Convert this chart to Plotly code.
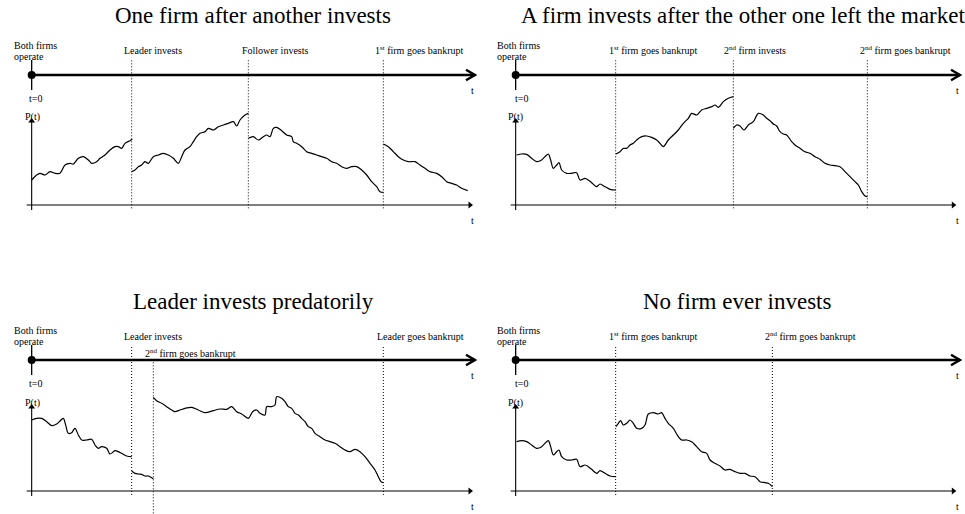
import plotly.graph_objects as go

# ---------------- data (units: t along time axis, P along price axis; origin at axes crossing) -------------
titles = ["One firm after another invests",
          "A firm invests after the other one left the market",
          "Leader invests predatorily",
          "No firm ever invests"]
title_t = [665, 683, 665, 663]
title_p = [570, 570, 568, 568]

# event times and labels per panel
p1_event_t = [300, 650, 1055]
p1_event_lbl = ["Leader invests", "Follower invests", "1<sup>st</sup> firm goes bankrupt"]
p1_lbl_t = [365, 729, 1161]
p1_lbl_p = [465, 465, 465]

p2_event_t = [300, 653, 1055]
p2_event_lbl = ["1<sup>st</sup> firm goes bankrupt", "2<sup>nd</sup> firm invests", "2<sup>nd</sup> firm goes bankrupt"]
p2_lbl_t = [411, 718, 1170]
p2_lbl_p = [465, 465, 465]

p3_event_t = [300, 365, 1055]
p3_event_top = [435, 388, 435]
p3_event_bot = [-12, -67, -12]
p3_event_lbl = ["Leader invests", "2<sup>nd</sup> firm goes bankrupt", "Leader goes bankrupt"]
p3_lbl_t = [365, 477, 1165]
p3_lbl_p = [465, 415, 465]

p4_event_t = [300, 770]
p4_event_lbl = ["1<sup>st</sup> firm goes bankrupt", "2<sup>nd</sup> firm goes bankrupt"]
p4_lbl_t = [411, 883]
p4_lbl_p = [465, 465]

# price paths (segments)
p1_s1_t = [0, 15, 25, 40, 55, 70, 85, 100, 115, 125, 140, 155, 170, 180, 195, 205, 220, 235, 250, 260, 270, 280, 295, 302]
p1_s1_p = [75, 90, 95, 90, 100, 95, 95, 120, 125, 123, 140, 145, 135, 125, 130, 140, 150, 165, 175, 175, 170, 185, 193, 197]
p1_s2_t = [300, 310, 320, 330, 340, 350, 365, 380, 395, 410, 425, 440, 450, 460, 475, 485, 495, 505, 520, 530, 545, 560, 575, 590, 605, 615, 625, 640, 650]
p1_s2_p = [100, 105, 115, 120, 130, 125, 145, 150, 155, 150, 140, 125, 145, 165, 175, 190, 205, 215, 220, 230, 225, 235, 240, 245, 250, 237, 255, 270, 275]
p1_s3_t = [650, 665, 680, 695, 705, 715, 725, 735, 750, 765, 780, 785, 795, 810, 825, 840, 855, 870, 885, 900, 915, 930, 945, 960, 975, 990, 1005, 1020, 1035, 1045, 1055]
p1_s3_p = [200, 205, 195, 205, 210, 205, 230, 233, 223, 210, 205, 190, 185, 175, 160, 155, 150, 145, 140, 130, 125, 115, 110, 115, 115, 105, 90, 70, 55, 40, 38]
p1_s4_t = [1055, 1070, 1085, 1100, 1115, 1130, 1150, 1165, 1180, 1195, 1215, 1230, 1245, 1260, 1275, 1290, 1308]
p1_s4_p = [183, 175, 160, 145, 135, 130, 130, 120, 110, 100, 95, 85, 70, 65, 60, 50, 43]

p2_s1_t = [3, 18, 33, 48, 63, 78, 88, 98, 105, 113, 123, 130, 138, 153, 168, 183, 193, 208, 218, 228, 243, 253, 268, 283, 301]
p2_s1_p = [150, 153, 152, 140, 130, 135, 145, 153, 135, 110, 120, 127, 105, 95, 95, 97, 75, 80, 75, 67, 55, 63, 55, 47, 45]
p2_s2_t = [301, 313, 323, 333, 343, 353, 363, 378, 393, 408, 423, 433, 443, 458, 473, 488, 503, 518, 528, 543, 558, 573, 588, 598, 608, 623, 638, 653]
p2_s2_p = [153, 160, 170, 170, 180, 185, 195, 205, 207, 203, 195, 185, 175, 195, 210, 225, 245, 260, 275, 270, 285, 290, 295, 300, 293, 310, 320, 325]
p2_s3_t = [653, 663, 673, 685, 698, 713, 728, 743, 753, 763, 773, 783, 793, 803, 813, 828, 838, 853, 868, 883, 898, 913, 928, 943, 958, 973, 988, 1003, 1018, 1028, 1038, 1048, 1055]
p2_s3_p = [230, 240, 237, 225, 240, 250, 275, 270, 260, 253, 243, 237, 220, 213, 210, 190, 180, 170, 160, 155, 145, 137, 125, 120, 118, 115, 100, 85, 70, 60, 40, 27, 25]

p3_s1_t = [0, 15, 30, 45, 60, 75, 85, 95, 102, 110, 120, 130, 140, 150, 165, 180, 190, 200, 210, 225, 235, 250, 260, 270, 285, 300]
p3_s1_p = [213, 218, 218, 208, 196, 201, 210, 218, 198, 173, 175, 188, 168, 153, 153, 155, 138, 128, 133, 128, 111, 121, 118, 113, 105, 103]
p3_s2_t = [300, 310, 320, 330, 340, 350, 360, 365]
p3_s2_p = [60, 53, 51, 50, 45, 45, 40, 37]
p3_s3_t = [365, 375, 390, 405, 420, 430, 445, 460, 480, 500, 520, 545, 565, 585, 600, 615, 630, 650, 663, 675, 685, 700, 705, 720, 730, 735, 750, 760, 770, 780, 790, 800, 810, 820, 830, 840, 850, 865, 880, 895, 910, 925, 940, 955, 970, 985, 1000, 1015, 1030, 1040, 1048, 1055]
p3_s3_p = [281, 271, 263, 253, 243, 238, 243, 248, 251, 243, 235, 241, 246, 245, 253, 238, 231, 218, 238, 243, 233, 228, 253, 253, 258, 283, 278, 268, 253, 248, 233, 228, 218, 208, 193, 188, 173, 163, 153, 148, 143, 133, 123, 118, 125, 118, 103, 83, 63, 43, 28, 25]

p4_s1_t = [3, 18, 33, 48, 63, 78, 88, 98, 105, 113, 123, 130, 138, 153, 168, 183, 193, 208, 218, 228, 243, 253, 268, 283, 301]
p4_s1_p = [148, 151, 148, 138, 128, 133, 143, 151, 133, 108, 118, 123, 103, 93, 93, 95, 73, 78, 73, 65, 53, 61, 53, 45, 43]
p4_s2_t = [301, 308, 315, 323, 333, 343, 353, 363, 378, 388, 398, 413, 428, 438, 448, 458, 473, 488, 498, 513, 528, 543, 558, 573, 583, 598, 613, 628, 643, 658, 673, 688, 703, 718, 733, 748, 758, 770]
p4_s2_p = [193, 203, 211, 198, 203, 213, 203, 188, 188, 198, 231, 235, 231, 235, 218, 203, 188, 163, 153, 153, 148, 133, 118, 113, 93, 83, 75, 63, 65, 58, 53, 53, 45, 43, 28, 25, 23, 13]

panels = [
    dict(events=p1_event_t, lbls=p1_event_lbl, lt=p1_lbl_t, lp=p1_lbl_p,
         segs=[(p1_s1_t, p1_s1_p), (p1_s2_t, p1_s2_p), (p1_s3_t, p1_s3_p), (p1_s4_t, p1_s4_p)],
         tl_p=390, ev_top=[440] * 3, ev_bot=[-10] * 3, xr=[-95, 1352.5], yr=[-156, 615],
         xd=[0, 0.5], yd=[0.5, 1], both_t=-60, t0_t=10, pt_t=3, tend=1330, aend=1315, tlbl=1323),
    dict(events=p2_event_t, lbls=p2_event_lbl, lt=p2_lbl_t, lp=p2_lbl_p,
         segs=[(p2_s1_t, p2_s1_p), (p2_s2_t, p2_s2_p), (p2_s3_t, p2_s3_p)],
         tl_p=390, ev_top=[440] * 3, ev_bot=[-10] * 3, xr=[-99.5, 1348], yr=[-156, 615],
         xd=[0.5, 1], yd=[0.5, 1], both_t=-62, t0_t=16, pt_t=-1, tend=1333, aend=1313, tlbl=1326),
    dict(events=p3_event_t, lbls=p3_event_lbl, lt=p3_lbl_t, lp=p3_lbl_p,
         segs=[(p3_s1_t, p3_s1_p), (p3_s2_t, p3_s2_p), (p3_s3_t, p3_s3_p)],
         tl_p=393, ev_top=p3_event_top, ev_bot=p3_event_bot, xr=[-95, 1352.5], yr=[-69, 702],
         xd=[0, 0.5], yd=[0, 0.5], both_t=-60, t0_t=10, pt_t=3, tend=1330, aend=1315, tlbl=1323),
    dict(events=p4_event_t, lbls=p4_event_lbl, lt=p4_lbl_t, lp=p4_lbl_p,
         segs=[(p4_s1_t, p4_s1_p), (p4_s2_t, p4_s2_p)],
         tl_p=393, ev_top=[435] * 2, ev_bot=[-12] * 2, xr=[-99.5, 1348], yr=[-69, 702],
         xd=[0.5, 1], yd=[0, 0.5], both_t=-62, t0_t=16, pt_t=-1, tend=1333, aend=1313, tlbl=1326),
]

SERIF = "Liberation Serif, Times New Roman, serif"
fig = go.Figure()
ann = []

for i, pn in enumerate(panels):
    k = "" if i == 0 else str(i + 1)
    xa, ya = "x" + k, "y" + k
    tl = pn["tl_p"]

    def line(xs, ys, w=1.0, dash="solid", color="black", shape="linear"):
        ln = dict(color=color, width=w, dash=dash, shape=shape)
        if shape == "spline":
            ln["smoothing"] = 0.9
        fig.add_trace(go.Scatter(x=xs, y=ys, mode="lines", xaxis=xa, yaxis=ya, hoverinfo="skip",
                                 line=ln, showlegend=False))

    # dotted event lines
    for e, top, bot in zip(pn["events"], pn["ev_top"], pn["ev_bot"]):
        line([e, e], [bot, top], w=1, dash="1px,2px")
    # timeline
    line([0, pn["tend"]], [tl, tl], w=2.6)
    line([pn["tend"] - 27, pn["tend"], pn["tend"] - 27], [tl + 16, tl, tl - 16], w=2.4)
    line([0, 0], [tl + 45, tl - 45], w=1.3)
    fig.add_trace(go.Scatter(x=[0], y=[tl], mode="markers", xaxis=xa, yaxis=ya, hoverinfo="skip",
                             marker=dict(color="black", size=8), showlegend=False))
    # P(t) axes
    line([-15, pn["aend"]], [0, 0], w=1.1)
    line([0, 0], [-15, 250], w=1.1)
    fig.add_trace(go.Scatter(x=[pn["aend"]], y=[0], mode="markers", xaxis=xa, yaxis=ya, hoverinfo="skip",
                             marker=dict(color="black", size=6, symbol="triangle-right"), showlegend=False))
    fig.add_trace(go.Scatter(x=[0], y=[252], mode="markers", xaxis=xa, yaxis=ya, hoverinfo="skip",
                             marker=dict(color="black", size=6, symbol="triangle-up"), showlegend=False))
    # price path
    for st, sp in pn["segs"]:
        line(st, sp, w=1.2, shape="spline")

    # texts
    def txt(x, y, s, size=10, xanchor="center"):
        ann.append(dict(x=x, y=y, xref=xa, yref=ya, text=s, showarrow=False, xanchor=xanchor,
                        yanchor="middle", font=dict(family=SERIF, size=size, color="black")))

    txt(title_t[i], title_p[i], titles[i], size=23)
    txt(pn["both_t"], tl + 90, "Both firms", xanchor="left")
    txt(pn["both_t"], tl + 55, "operate", xanchor="left")
    txt(pn["t0_t"], tl - 70, "t=0")
    txt(pn["pt_t"], 265, "P(t)")
    txt(pn["tlbl"], tl - 45, "t")
    txt(pn["tlbl"], -45, "t")
    for s, x, y in zip(pn["lbls"], pn["lt"], pn["lp"]):
        txt(x, y, s)

    fig.layout["xaxis" + k] = dict(domain=pn["xd"], range=pn["xr"], visible=False, anchor=ya, fixedrange=True)
    fig.layout["yaxis" + k] = dict(domain=pn["yd"], range=pn["yr"], visible=False, anchor=xa, fixedrange=True)

fig.update_layout(width=965, height=514, margin=dict(l=0, r=0, t=0, b=0),
                  paper_bgcolor="white", plot_bgcolor="white", annotations=ann, showlegend=False)
fig.write_html("out.html", config={"displayModeBar": False},
               post_script="document.body.style.margin='0';document.body.style.overflow='hidden';")
